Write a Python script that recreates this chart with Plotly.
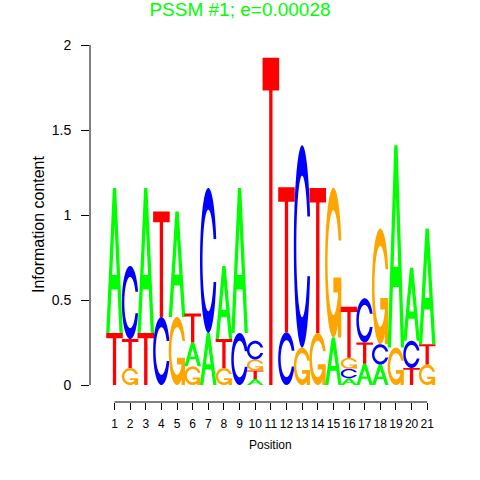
import numpy as np
import plotly.graph_objects as go

# ---------------- data (letter heights in bits) ----------------
positions = list(range(1, 22))
tick_labels = [str(p) for p in positions]
A_height = [0.853, 0, 0.853, 0, 0.62, 0.14, 0.306, 0.43, 0.853, 0.035, 0, 0, 0, 0, 0.28, 0.04, 0.125, 0.12, 1.19, 0.43, 0.68]
C_height = [0, 0.43, 0, 0.40, 0, 0, 0.853, 0, 0.306, 0.11, 0, 0.31, 1.19, 0, 0, 0.055, 0.26, 0.12, 0, 0.16, 0]
G_height = [0, 0.10, 0, 0, 0.40, 0.11, 0, 0.10, 0, 0.065, 0, 0, 0.22, 0.306, 0.88, 0.065, 0, 0.68, 0.22, 0, 0.12]
T_height = [0.306, 0.17, 0.306, 0.62, 0, 0.17, 0, 0.17, 0, 0.05, 1.925, 0.853, 0, 0.853, 0, 0.30, 0.125, 0, 0, 0.10, 0.12]
y_ticks = [0, 0.5, 1, 1.5, 2]
y_tick_labels = ["0", "0.5", "1", "1.5", "2"]
title_text = "PSSM #1; e=0.00028"

colors = {"A": "#00FF00", "C": "#0000FF", "G": "#FFA500", "T": "#FF0000"}
letter_width = 1.06

# ---------------- glyph outlines in a unit box ----------------
def c_outline(n=45):
    a1 = np.linspace(0.3 + np.pi / 2, np.pi, n)
    a2 = np.linspace(np.pi, 1.5 * np.pi, n)
    xl1 = 0.5 + 0.5 * np.sin(a1)
    yl1 = 0.5 + 0.5 * np.cos(a1)
    xl = np.concatenate([xl1, 0.5 + 0.5 * np.sin(a2)])
    yl = np.concatenate([yl1, 0.5 + 0.5 * np.cos(a2)])
    x = np.concatenate([xl, xl[::-1]])
    y = np.concatenate([yl, 1 - yl[::-1]])
    xi1 = 0.5 + 0.35 * np.sin(a1)
    yi1 = 0.5 + 0.35 * np.cos(a1)
    m = yi1 <= yl1.max()
    xi1 = xi1[m]
    yi1 = yi1[m].copy()
    yi1[0] = yl1.max()
    xi2 = 0.5 + 0.35 * np.sin(a2)
    yi2 = 0.5 + 0.35 * np.cos(a2)
    xi = np.concatenate([xi1, xi2])
    yi = np.concatenate([yi1, yi2])
    x1 = np.concatenate([xi, xi[::-1]])
    y1 = np.concatenate([yi, 1 - yi[::-1]])
    x = np.concatenate([x, x1[::-1]])
    y = np.concatenate([y, y1[::-1]])
    return list(zip(x, y)), xl1.max()


def glyph(letter):
    """Return list of (subpaths, fillrule) pieces."""
    if letter == "A":
        outer = [(0, 0), (0.4, 1), (0.6, 1), (1, 0), (0.8, 0), (0.68, 0.3), (0.32, 0.3), (0.2, 0)]
        hole = [(0.36, 0.4), (0.5, 0.75), (0.64, 0.4)]
        return [([outer, hole], "evenodd")]
    if letter == "T":
        return [([[(0, 1), (1, 1), (1, 0.9), (0.6, 0.9), (0.6, 0), (0.4, 0), (0.4, 0.9), (0, 0.9)]], "nonzero")]
    ring, r1 = c_outline()
    if letter == "C":
        return [([ring], "nonzero")]
    h1 = 0.4
    bar = [(r1, h1), (0.5, h1), (0.5, h1 - 0.1), (r1 - 0.2, h1 - 0.1), (r1 - 0.2, 0), (r1, 0)]
    return [([ring], "nonzero"), ([bar], "nonzero")]


def to_path(subpaths, x0, y0, w, h):
    parts = []
    for sp in subpaths:
        pts = [f"{x0 + u * w:.4f},{y0 + v * h:.4f}" for u, v in sp]
        parts.append("M" + "L".join(pts) + "Z")
    return " ".join(parts)


shapes = []
heights = {"A": A_height, "C": C_height, "G": G_height, "T": T_height}
for i, pos in enumerate(positions):
    col = [(heights[L][i], L) for L in "ACGT" if heights[L][i] > 0]
    col.sort(key=lambda t: t[0])  # stable: ties keep A,C,G,T order
    base = 0.0
    for h, L in col:
        for subpaths, rule in glyph(L):
            shapes.append(dict(
                type="path", xref="x", yref="y",
                path=to_path(subpaths, pos - letter_width / 2, base, letter_width, h),
                fillcolor=colors[L], fillrule=rule, line=dict(width=0), layer="above",
            ))
        base += h

# axis lines drawn like R (only spanning the tick range)
shapes.append(dict(type="line", xref="paper", yref="y", x0=0, x1=0, y0=0, y1=2,
                   line=dict(color="black", width=1)))
shapes.append(dict(type="line", xref="x", yref="paper", x0=1, x1=21, y0=0, y1=0,
                   line=dict(color="black", width=1)))

fig = go.Figure()
fig.add_trace(go.Scatter(x=[], y=[], mode="markers", hoverinfo="skip", showlegend=False))

font_family = "Liberation Sans, Arial, Helvetica, sans-serif"
fig.update_layout(
    width=480, height=480,
    margin=dict(l=90, r=40, t=45, b=78, autoexpand=False),
    paper_bgcolor="white", plot_bgcolor="white",
    font=dict(family=font_family, size=12, color="black"),
    title=dict(text=title_text, x=0.5, xanchor="center", y=1 - 9 / 480, yanchor="middle",
               yref="container", font=dict(family=font_family, size=19, color="#00FF00")),
    shapes=shapes,
    showlegend=False,
    xaxis=dict(range=[-0.5675, 21.82], tickmode="array", tickvals=positions, ticktext=tick_labels,
               ticks="outside", ticklen=7, tickcolor="black", showline=False, showgrid=False,
               zeroline=False, tickfont=dict(size=12, color="black"), fixedrange=True,
               tickangle=0, automargin=False, ticklabelstandoff=4),
    yaxis=dict(range=[-0.1, 2.0], tickmode="array", tickvals=y_ticks, ticktext=y_tick_labels,
               ticks="outside", ticklen=8, tickcolor="black", showline=False, showgrid=False,
               zeroline=False, tickfont=dict(size=14, color="black"), fixedrange=True,
               automargin=False, ticklabelstandoff=7),
    annotations=[
        dict(text="Information content", xref="paper", yref="paper", x=(38 - 90) / 350,
             y=(402 - 224) / 357, xanchor="center", yanchor="middle", textangle=-90,
             showarrow=False, font=dict(size=16, color="black")),
        dict(text="Position", xref="paper", yref="paper", x=(270 - 90) / 350,
             y=(402 - 445) / 357, xanchor="center", yanchor="middle",
             showarrow=False, font=dict(size=12, color="black")),
    ],
)

fig.write_html("out.html", config={"displayModeBar": False},
               post_script="document.body.style.margin='0px';document.body.style.padding='0px';")
